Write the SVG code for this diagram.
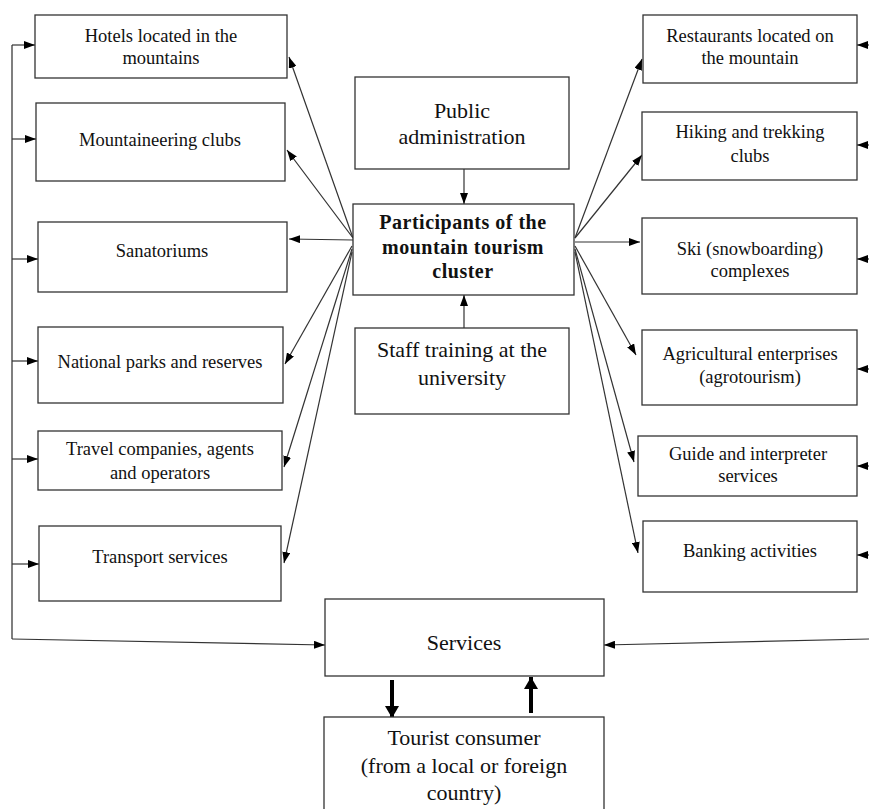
<svg xmlns="http://www.w3.org/2000/svg" width="869" height="809" viewBox="0 0 869 809">
<style>
.box{fill:#fff;stroke:#333;stroke-width:1.3}
.t{font-family:"Liberation Serif","Times New Roman",serif;font-size:18.5px;fill:#111;text-anchor:middle}
.tl{font-family:"Liberation Serif","Times New Roman",serif;font-size:22px;fill:#111;text-anchor:middle}
.tb{font-family:"Liberation Serif","Times New Roman",serif;font-size:20px;font-weight:bold;fill:#111;text-anchor:middle;letter-spacing:0.5px}
.c{fill:none;stroke:#333;stroke-width:1.2;marker-end:url(#a)}
.g{fill:none;stroke:#555;stroke-width:1.5}
.k{fill:none;stroke:#000;stroke-width:4;marker-end:url(#b)}
</style>
<defs>
<marker id="a" markerUnits="userSpaceOnUse" markerWidth="11" markerHeight="8" refX="11" refY="4" orient="auto"><path d="M0,0 L11,4 L0,8 z" fill="#000"/></marker>
<marker id="b" markerUnits="userSpaceOnUse" markerWidth="12" markerHeight="14" refX="12" refY="7" orient="auto"><path d="M0,0 L12,7 L0,14 z" fill="#000"/></marker>
</defs>
<g id="connectors">
<line class="g" x1="12" y1="45" x2="12" y2="639"/>
<line class="c" x1="12" y1="45" x2="35" y2="45"/>
<line class="c" x1="12" y1="139" x2="36" y2="139"/>
<line class="c" x1="12" y1="259" x2="38" y2="259"/>
<line class="c" x1="12" y1="361" x2="38" y2="361"/>
<line class="c" x1="12" y1="459" x2="38" y2="459"/>
<line class="c" x1="12" y1="564" x2="39" y2="564"/>
<path class="c" d="M12,639 L325,645"/>
<path class="c" d="M869,639 L604,645"/>
<line class="c" x1="869" y1="45" x2="857" y2="45"/>
<line class="c" x1="869" y1="145" x2="857" y2="145"/>
<line class="c" x1="869" y1="259" x2="857" y2="259"/>
<line class="c" x1="869" y1="369" x2="857" y2="369"/>
<line class="c" x1="869" y1="466" x2="857" y2="466"/>
<line class="c" x1="869" y1="555" x2="857" y2="555"/>
<line class="c" x1="464" y1="169" x2="464" y2="204"/>
<line class="c" x1="464" y1="328" x2="464" y2="295"/>
<line class="c" x1="353" y1="238" x2="289" y2="57"/>
<line class="c" x1="353" y1="238" x2="287" y2="150"/>
<line class="c" x1="353" y1="240" x2="289" y2="239"/>
<line class="c" x1="352" y1="246" x2="285" y2="364"/>
<line class="c" x1="352" y1="249" x2="284" y2="467"/>
<line class="c" x1="352" y1="252" x2="284" y2="563"/>
<line class="c" x1="575" y1="238" x2="642" y2="59"/>
<line class="c" x1="575" y1="238" x2="642" y2="155"/>
<line class="c" x1="575" y1="242" x2="640" y2="242"/>
<line class="c" x1="575" y1="246" x2="636" y2="355"/>
<line class="c" x1="575" y1="249" x2="634" y2="462"/>
<line class="c" x1="575" y1="252" x2="638" y2="553"/>
<line class="k" x1="392" y1="680" x2="392" y2="718"/>
<line class="k" x1="531" y1="713" x2="531" y2="677"/>
</g>
<g id="hotels"><rect class="box" x="35" y="15" width="252" height="63"/><text class="t" x="161" y="42">Hotels located in the</text><text class="t" x="161" y="64">mountains</text></g>
<g id="mountaineering"><rect class="box" x="36" y="103" width="249" height="78"/><text class="t" x="160" y="146">Mountaineering clubs</text></g>
<g id="sanatoriums"><rect class="box" x="38" y="222" width="249" height="70"/><text class="t" x="162" y="257">Sanatoriums</text></g>
<g id="parks"><rect class="box" x="38" y="327" width="245" height="76"/><text class="t" x="160" y="368">National parks and reserves</text></g>
<g id="travel"><rect class="box" x="38" y="431" width="244" height="59"/><text class="t" x="160" y="455">Travel companies, agents</text><text class="t" x="160" y="479">and operators</text></g>
<g id="transport"><rect class="box" x="39" y="526" width="242" height="75"/><text class="t" x="160" y="563">Transport services</text></g>
<g id="restaurants"><rect class="box" x="643" y="15" width="214" height="68"/><text class="t" x="750" y="42">Restaurants located on</text><text class="t" x="750" y="64">the mountain</text></g>
<g id="hiking"><rect class="box" x="642" y="112" width="215" height="68"/><text class="t" x="750" y="138">Hiking and trekking</text><text class="t" x="750" y="162">clubs</text></g>
<g id="ski"><rect class="box" x="642" y="218" width="215" height="76"/><text class="t" x="750" y="255">Ski (snowboarding)</text><text class="t" x="750" y="277">complexes</text></g>
<g id="agri"><rect class="box" x="642" y="330" width="215" height="75"/><text class="t" x="750" y="360">Agricultural enterprises</text><text class="t" x="750" y="383">(agrotourism)</text></g>
<g id="guide"><rect class="box" x="638" y="436" width="219" height="60"/><text class="t" x="748" y="460">Guide and interpreter</text><text class="t" x="748" y="482">services</text></g>
<g id="banking"><rect class="box" x="643" y="521" width="214" height="71"/><text class="t" x="750" y="557">Banking activities</text></g>
<g id="public"><rect class="box" x="355" y="77" width="214" height="92"/><text class="tl" x="462" y="118">Public</text><text class="tl" x="462" y="144">administration</text></g>
<g id="participants"><rect class="box" x="353" y="204" width="221" height="91"/><text class="tb" x="463" y="229">Participants of the</text><text class="tb" x="463" y="254">mountain tourism</text><text class="tb" x="463" y="278">cluster</text></g>
<g id="staff"><rect class="box" x="355" y="328" width="214" height="86"/><text class="tl" x="462" y="357">Staff training at the</text><text class="tl" x="462" y="385">university</text></g>
<g id="services"><rect class="box" x="325" y="599" width="279" height="77"/><text class="tl" x="464" y="650">Services</text></g>
<g id="tourist"><rect class="box" x="324" y="717" width="280" height="100"/><text class="tl" x="464" y="745">Tourist consumer</text><text class="tl" x="464" y="773">(from a local or foreign</text><text class="tl" x="464" y="800">country)</text></g>
</svg>
